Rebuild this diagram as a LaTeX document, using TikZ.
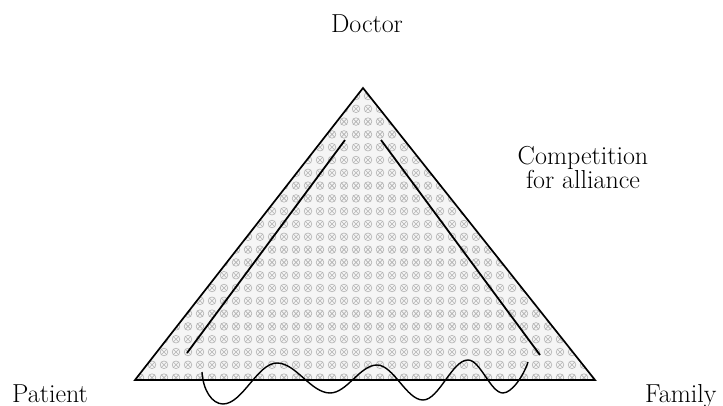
\documentclass[tikz,border=0pt]{standalone}
\begin{document}
\begin{tikzpicture}[x=1pt,y=-1pt,
  lbl/.style={inner sep=0pt,anchor=base,font=\fontsize{26}{23}\selectfont},
  edge/.style={line width=1.7pt,line join=miter},
  inner/.style={line width=1.8pt},
  wave/.style={line width=1.4pt},
  blot/.style={gray!60,line width=0.6pt}]
\useasboundingbox (0,0) rectangle (723,406);
% vertices
\coordinate (D) at (363,88);
\coordinate (P) at (135,380);
\coordinate (F) at (595,380);
% texture
\fill[gray!8] (D) -- (P) -- (F) -- cycle;
\begin{scope}
\clip (D) -- (P) -- (F) -- cycle;
\foreach \i in {0,...,38}{
  \foreach \j in {0,...,22}{
    \draw[blot] (140+12*\i,96+12.8*\j) circle (3.8pt);
    \draw[blot] (137+12*\i,93+12.8*\j) -- (143+12*\i,99+12.8*\j)
                (143+12*\i,93+12.8*\j) -- (137+12*\i,99+12.8*\j);
  }
}
\end{scope}
\draw[edge] (D) -- (P) -- (F) -- cycle;
% inner lines
\coordinate (L1) at (187,353);
\coordinate (L2) at (345,140);
\coordinate (R1) at (381,140);
\coordinate (R2) at (540,355);
\draw[inner] (L1) -- (L2);
\draw[inner] (R1) -- (R2);
% wave
\draw[wave] (202,372) .. controls (203,390) and (212,404) .. (223,404)
  .. controls (242.5,404) and (257.5,363) .. (277,363)
  .. controls (296,363) and (311,393) .. (330,393)
  .. controls (347,393) and (360,365) .. (377,365)
  .. controls (393.5,365) and (406.5,400) .. (423,400)
  .. controls (439,400) and (452,360) .. (468,360)
  .. controls (480.5,360) and (490.5,393) .. (503,393)
  .. controls (512,393) and (524,375) .. (528,362);
% labels
\node[lbl] (doc) at (367,33) {Doctor};
\node[lbl,anchor=center,align=center] (comp) at (583,167.5) {Competition\\for alliance};
\node[lbl,anchor=base west] (pat) at (12,402) {Patient};
\node[lbl,anchor=base west] (fam) at (645,402) {Family};
\end{tikzpicture}
\end{document}
